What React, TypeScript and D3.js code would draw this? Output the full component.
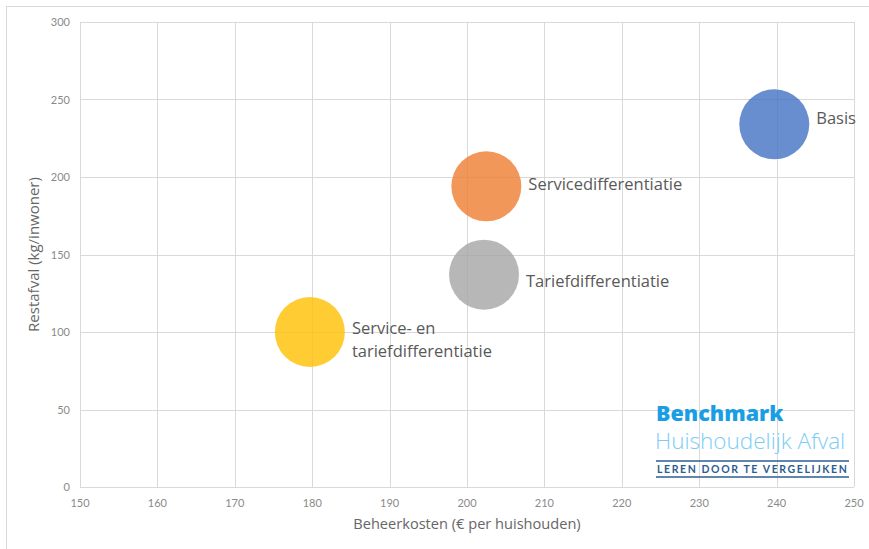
import { useRef, useEffect } from 'react';
import * as d3 from 'd3';

// Scenario's: beheerkosten (x), restafval (y), bubble size
const scenarios = ['Basis', 'Servicedifferentiatie', 'Tariefdifferentiatie', 'Service- en tariefdifferentiatie'];
const beheerkosten = [239.7, 202.5, 202.2, 179.7];
const restafval = [234, 194, 137, 100];
const bubbleSize = [1, 1, 1, 1];
const colors = ['#4472C4', '#ED7D31', '#A5A5A5', '#FFC000'];
const xTicks = [150, 160, 170, 180, 190, 200, 210, 220, 230, 240, 250];
const yTicks = [0, 50, 100, 150, 200, 250, 300];

const W = 869;
const H = 549;
const margin = { top: 22, right: 15, bottom: 62, left: 80 };
const FONT = '"Open Sans", Lato, sans-serif';
const TICKFONT = 'Lato, sans-serif';

const App = () => {
  const svgRef = useRef(null);

  useEffect(() => {
    document.body.style.margin = '0';
    const svg = d3.select(svgRef.current);
    svg.selectAll('*').remove();

    const x = d3.scaleLinear().domain([150, 250]).range([margin.left, W - margin.right]);
    const y = d3.scaleLinear().domain([0, 300]).range([H - margin.bottom, margin.top]);
    const r = d3.scaleSqrt().domain([0, d3.max(bubbleSize) as number]).range([0, 35]);

    // outer chart border
    svg.append('rect')
      .attr('x', 6.5).attr('y', 6.5)
      .attr('width', W + 10).attr('height', H + 10)
      .attr('fill', 'white').attr('stroke', '#d9d9d9');

    // gridlines
    const grid = svg.append('g').attr('stroke', '#d9d9d9').attr('stroke-width', 1);
    grid.selectAll('line.v').data(xTicks).join('line')
      .attr('x1', (d) => Math.round(x(d)) + 0.5).attr('x2', (d) => Math.round(x(d)) + 0.5)
      .attr('y1', y(300)).attr('y2', y(0));
    grid.selectAll('line.h').data(yTicks).join('line')
      .attr('class', 'h')
      .attr('x1', x(150)).attr('x2', x(250))
      .attr('y1', (d) => Math.round(y(d)) + 0.5).attr('y2', (d) => Math.round(y(d)) + 0.5);

    // tick labels
    svg.append('g').selectAll('text').data(xTicks).join('text')
      .attr('x', (d) => x(d)).attr('y', y(0) + 20)
      .attr('text-anchor', 'middle')
      .attr('font-family', TICKFONT).attr('font-size', 11).attr('fill', '#8a8a8a')
      .text((d) => d);
    svg.append('g').selectAll('text').data(yTicks).join('text')
      .attr('x', x(150) - 10).attr('y', (d) => y(d) + 4)
      .attr('text-anchor', 'end')
      .attr('font-family', TICKFONT).attr('font-size', 11).attr('fill', '#8a8a8a')
      .text((d) => d);

    // axis titles
    svg.append('text')
      .attr('x', 467).attr('y', 529)
      .attr('text-anchor', 'middle')
      .attr('font-family', FONT).attr('font-size', 14.6).attr('fill', '#666')
      .text('Beheerkosten (€ per huishouden)');
    svg.append('text')
      .attr('transform', `translate(39, ${(y(0) + y(300)) / 2}) rotate(-90)`)
      .attr('text-anchor', 'middle')
      .attr('font-family', FONT).attr('font-size', 15).attr('fill', '#666')
      .text('Restafval (kg/inwoner)');

    // logo
    const logo = svg.append('g').attr('font-family', FONT);
    logo.append('text')
      .attr('x', 656).attr('y', 421)
      .attr('font-size', 21.5).attr('font-weight', 800).attr('fill', '#1a9ee3')
      .text('Benchmark');
    logo.append('text')
      .attr('x', 655).attr('y', 449)
      .attr('font-size', 22.5).attr('font-weight', 300).attr('fill', '#7ccdf2')
      .text('Huishoudelijk Afval');
    logo.selectAll('line').data([461, 477]).join('line')
      .attr('x1', 656).attr('x2', 849)
      .attr('y1', (d) => d).attr('y2', (d) => d)
      .attr('stroke', '#2c5d8f').attr('stroke-width', 1.5);
    logo.append('text')
      .attr('x', 657).attr('y', 473)
      .attr('font-family', TICKFONT)
      .attr('font-size', 10.5).attr('font-weight', 700).attr('fill', '#2c5d8f')
      .attr('letter-spacing', 1.6)
      .text('LEREN DOOR TE VERGELIJKEN');

    // bubbles
    svg.append('g').selectAll('circle').data(scenarios).join('circle')
      .attr('cx', (_, i) => x(beheerkosten[i]))
      .attr('cy', (_, i) => y(restafval[i]))
      .attr('r', (_, i) => r(bubbleSize[i]))
      .attr('fill', (_, i) => colors[i])
      .attr('fill-opacity', 0.8);

    // data labels (Excel labels were nudged by hand)
    const labelDy = [-6, -2, 6, -4];
    const labels = svg.append('g')
      .attr('font-family', FONT).attr('font-size', 16.5).attr('fill', '#595959');
    scenarios.forEach((name, i) => {
      const lx = x(beheerkosten[i]) + r(bubbleSize[i]) + 7;
      const t = labels.append('text')
        .attr('x', lx)
        .attr('y', y(restafval[i]) + labelDy[i] + 6);
      if (name.startsWith('Service- en')) {
        t.append('tspan').text('Service- en');
        t.append('tspan').attr('x', lx).attr('dy', 23).text('tariefdifferentiatie');
      } else {
        t.text(name);
      }
    });
  }, []);

  return <svg ref={svgRef} width={W} height={H} style={{ display: 'block' }} />;
};

export default App;
